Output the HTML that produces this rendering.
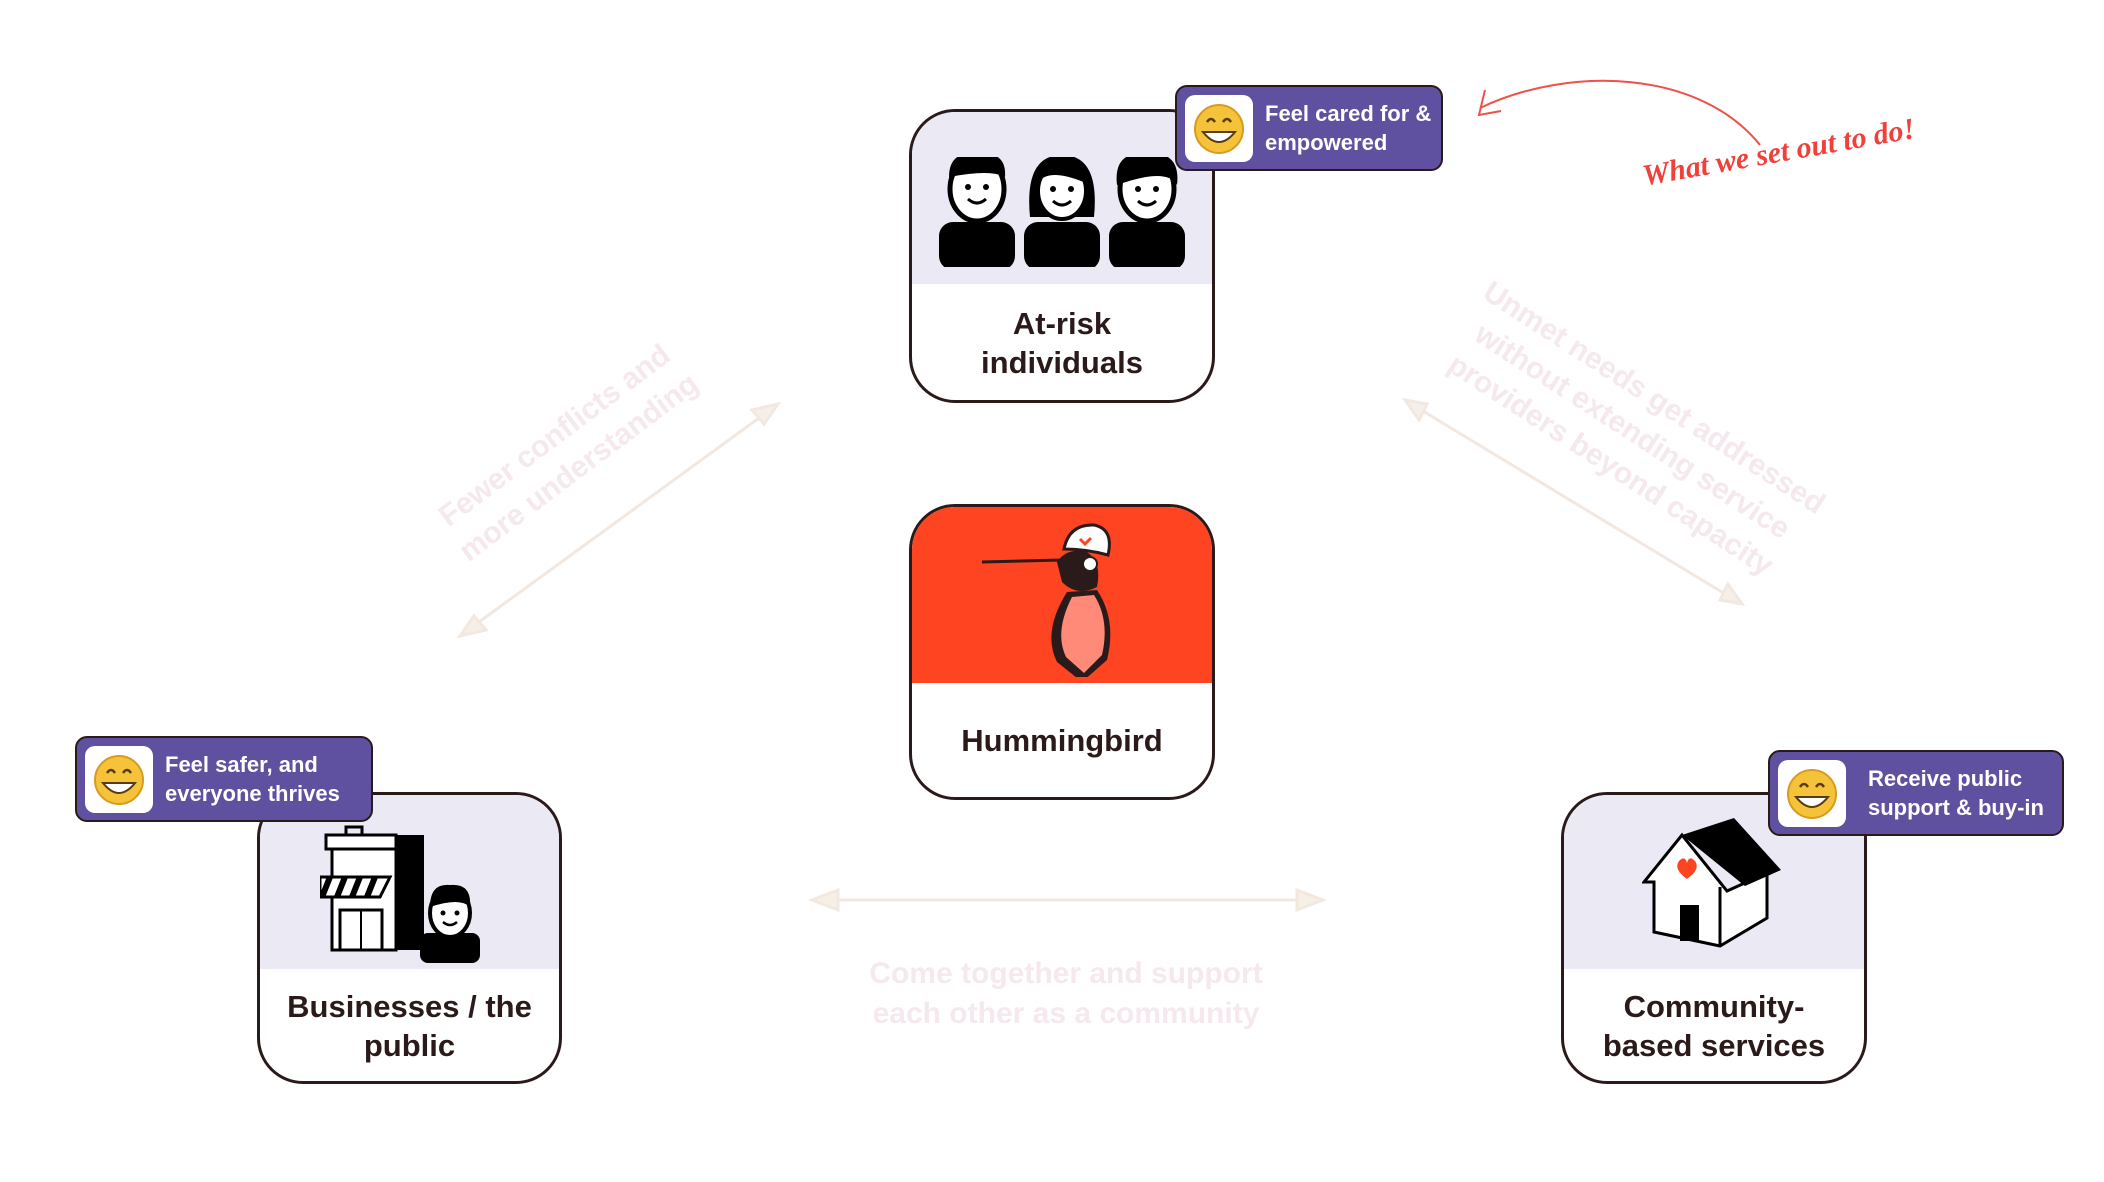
<!DOCTYPE html>
<html><head><meta charset="utf-8"><style>
body{margin:0;width:2104px;height:1182px;background:#fff;position:relative;overflow:hidden;font-family:"Liberation Sans",sans-serif}
.card{position:absolute;width:296px;height:290px;border:3px solid #2b1a1a;border-radius:46px;overflow:hidden;background:#fff;box-sizing:border-box}
.card .top{position:absolute;left:0;top:0;width:100%;height:172px;background:#ebe9f3}
.card .lbl{position:absolute;left:0;width:100%;top:178px;height:106px;display:flex;align-items:center;justify-content:center;text-align:center;font-weight:bold;font-size:31px;line-height:39px;color:#2b1a1a}
.badge{position:absolute;height:86px;border:2px solid #2b1a1a;border-radius:12px;background:#6051a0;box-sizing:border-box;color:#fff;font-size:22px;line-height:29px;font-weight:bold}
.badge .em{position:absolute;left:8px;top:8px;width:68px;height:67px;background:#fff;border-radius:10px;display:flex;align-items:center;justify-content:center}
.badge .t{position:absolute;left:88px;top:12px;white-space:nowrap}
.faint{position:absolute;color:#f5e8ee;font-size:30px;font-weight:bold;white-space:nowrap;text-align:center;line-height:40px}
</style></head><body>
<svg width="0" height="0" style="position:absolute"><defs>
<g id="emo"><circle cx="0" cy="0" r="24" fill="#f5c33a"/><circle cx="0" cy="0" r="24" fill="none" stroke="#d99a20" stroke-width="2"/><path d="M-12 -7 q4 -6 8 0 M4 -7 q4 -6 8 0" stroke="#5a3a10" stroke-width="2.5" fill="none"/><path d="M-16 3 q16 20 32 0 z" fill="#fff" stroke="#5a3a10" stroke-width="2"/></g>
</defs></svg>

<svg style="position:absolute;left:0;top:0" width="2104" height="1182">
<g stroke="#f3e8e0" stroke-width="3" fill="#f6efe8">
<line x1="770" y1="410" x2="468" y2="630"/>
<path d="M778 404 l-26 6 l12 14 z"/><path d="M460 636 l26 -6 l-12 -14 z"/>
<line x1="1413" y1="405" x2="1735" y2="600"/>
<path d="M1405 400 l14 20 l8 -16 z"/><path d="M1742 604 l-14 -20 l-8 16 z"/>
<line x1="820" y1="900" x2="1315" y2="900"/>
<path d="M812 900 l26 -10 v20 z"/><path d="M1323 900 l-26 -10 v20 z"/>
</g>
<path d="M1760 145 C1700 70 1570 65 1480 108" stroke="#f0504a" stroke-width="2" fill="none"/>
<path d="M1485 90 l-6 25 l22 -4" stroke="#f0504a" stroke-width="2" fill="none"/>
</svg>
<div style="position:absolute;left:1640px;top:160px;transform:rotate(-10deg);transform-origin:left top;color:#f0403a;font-style:italic;font-weight:bold;font-size:30px;font-family:'Liberation Serif',serif;white-space:nowrap">What we set out to do!</div>

<div class="faint" style="left:567px;top:452px;transform:translate(-50%,-50%) rotate(-37deg)">Fewer conflicts and<br>more understanding</div>
<div class="faint" style="left:1632px;top:432px;transform:translate(-50%,-50%) rotate(33deg)">Unmet needs get addressed<br>without extending service<br>providers beyond capacity</div>
<div class="faint" style="left:1066px;top:994px;transform:translate(-50%,-50%)">Come together and support<br>each other as a community</div>

<div class="card" style="left:909px;top:109px;width:306px;height:294px">
<div class="top"></div>
<svg style="position:absolute;left:25px;top:45px" width="250" height="110">
<g fill="#000">
<g transform="translate(40,0)"><rect x="-38" y="65" width="76" height="48" rx="14"/><ellipse cx="0" cy="32" rx="27" ry="32" fill="#fff" stroke="#000" stroke-width="5"/><path d="M-28 20 q0 -26 28 -24 q30 -2 28 24 q-14 -8 -56 0z"/><circle cx="-9" cy="30" r="3"/><circle cx="9" cy="30" r="3"/><path d="M-9 42 q9 8 18 0" stroke="#000" stroke-width="3" fill="none"/></g>
<g transform="translate(125,0)"><rect x="-38" y="65" width="76" height="48" rx="14"/><path d="M-32 60 q-6 -62 32 -62 q38 0 32 62z"/><ellipse cx="0" cy="34" rx="24" ry="28" fill="#fff" stroke="#000" stroke-width="4"/><path d="M-24 26 q10 -16 48 0 q-2 -20 -24 -22 q-22 2 -24 22z"/><circle cx="-9" cy="32" r="3"/><circle cx="9" cy="32" r="3"/><path d="M-9 44 q9 8 18 0" stroke="#000" stroke-width="3" fill="none"/></g>
<g transform="translate(210,0)"><rect x="-38" y="65" width="76" height="48" rx="14"/><ellipse cx="0" cy="32" rx="27" ry="32" fill="#fff" stroke="#000" stroke-width="5"/><path d="M-30 28 q-4 -34 30 -32 q34 -2 30 32 q-10 -18 -60 0z"/><circle cx="-9" cy="32" r="3"/><circle cx="9" cy="32" r="3"/><path d="M-9 44 q9 8 18 0" stroke="#000" stroke-width="3" fill="none"/></g>
</g></svg>
<div class="lbl">At-risk<br>individuals</div>
</div>
<div class="badge" style="left:1175px;top:85px;width:268px"><div class="em"><svg width="56" height="56" viewBox="-28 -28 56 56"><use href="#emo"/></svg></div><div class="t">Feel cared for &amp;<br>empowered</div></div>

<div class="card" style="left:909px;top:504px;width:306px;height:296px">
<div class="top" style="background:#ff4422;height:176px"></div>
<svg style="position:absolute;left:60px;top:10px" width="200" height="160">
<line x1="10" y1="45" x2="90" y2="43" stroke="#2b1a1a" stroke-width="3"/>
<path d="M95 75 q-25 40 -10 70 l25 20 l25 -22 q10 -40 -10 -70z" fill="#2b1a1a"/>
<path d="M100 80 q-18 35 -6 60 l18 16 l18 -18 q8 -35 -8 -60z" fill="#ff8a78"/>
<path d="M85 45 q10 -15 30 -10 q15 10 10 35 q-20 10 -35 -5z" fill="#2b1a1a"/>
<path d="M92 32 q5 -25 30 -24 q20 4 14 30 q-22 -6 -44 -6z" fill="#fff" stroke="#2b1a1a" stroke-width="3"/>
<path d="M108 22 l5 5 l6 -6" stroke="#ff4422" stroke-width="3" fill="none"/>
<circle cx="118" cy="47" r="7" fill="#fff" stroke="#2b1a1a" stroke-width="2"/>
</svg>
<div class="lbl" style="top:180px">Hummingbird</div>
</div>

<div class="card" style="left:257px;top:792px;width:305px;height:292px">
<div class="top" style="height:174px"></div>
<svg style="position:absolute;left:60px;top:20px" width="180" height="150">
<rect x="6" y="20" width="70" height="14" fill="#fff" stroke="#000" stroke-width="3"/>
<path d="M26 20 v-8 h16 v8" fill="none" stroke="#000" stroke-width="3"/>
<rect x="76" y="20" width="28" height="115" fill="#000"/>
<rect x="12" y="34" width="64" height="101" fill="#fff" stroke="#000" stroke-width="3"/>
<path d="M0 62 h70 l-10 20 h-60z" fill="#fff" stroke="#000" stroke-width="3"/>
<path d="M10 62 l-8 20 M25 62 l-8 20 M40 62 l-8 20 M55 62 l-8 20" stroke="#000" stroke-width="6"/>
<rect x="20" y="95" width="42" height="40" fill="none" stroke="#000" stroke-width="3"/>
<line x1="41" y1="95" x2="41" y2="135" stroke="#000" stroke-width="2"/>
<rect x="100" y="118" width="60" height="30" rx="8" fill="#000"/>
<ellipse cx="130" cy="98" rx="20" ry="24" fill="#fff" stroke="#000" stroke-width="4"/>
<path d="M110 92 q0 -24 20 -22 q22 -2 20 22 q-10 -10 -40 0z" fill="#000"/>
<circle cx="123" cy="98" r="2.5"/><circle cx="137" cy="98" r="2.5"/><path d="M123 107 q7 6 14 0" stroke="#000" stroke-width="2.5" fill="none"/>
</svg>
<div class="lbl">Businesses / the<br>public</div>
</div>
<div class="badge" style="left:75px;top:736px;width:298px"><div class="em"><svg width="56" height="56" viewBox="-28 -28 56 56"><use href="#emo"/></svg></div><div class="t">Feel safer, and<br>everyone thrives</div></div>

<div class="card" style="left:1561px;top:792px;width:306px;height:292px">
<div class="top" style="height:174px"></div>
<svg style="position:absolute;left:78px;top:20px" width="150" height="140">
<path d="M40 20 l-38 47 h10 v50 l66 14 l47 -28 v-45 l-40 18z" fill="#fff" stroke="#000" stroke-width="3"/>
<path d="M40 20 l52 -17 l47 52 l-36 16z" fill="#000"/>
<line x1="78" y1="72" x2="78" y2="131" stroke="#000" stroke-width="3"/>
<rect x="38" y="90" width="19" height="36" fill="#000"/>
<path d="M45 64 q-14 -10 -8 -18 q6 -6 8 2 q2 -8 8 -2 q6 8 -8 18z" fill="#ff4422"/>
</svg>
<div class="lbl">Community-<br>based services</div>
</div>
<div class="badge" style="left:1768px;top:750px;width:296px"><div class="em"><svg width="56" height="56" viewBox="-28 -28 56 56"><use href="#emo"/></svg></div><div class="t" style="left:98px">Receive public<br>support &amp; buy-in</div></div>
</body></html>
